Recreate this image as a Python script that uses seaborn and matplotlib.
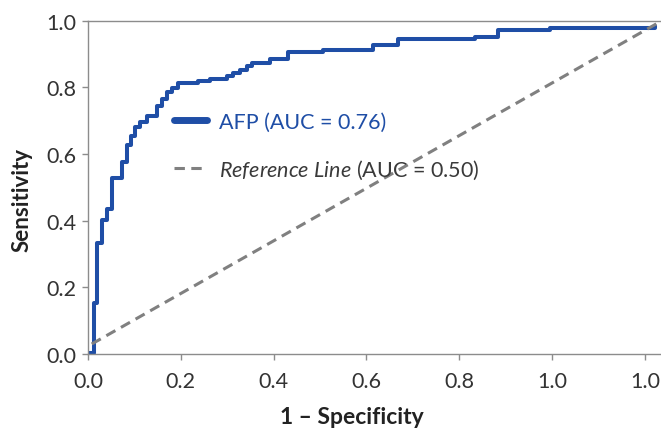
import matplotlib
matplotlib.use("Agg")
import matplotlib.pyplot as plt
import seaborn as sns
import pandas as pd

# ---- data ----
afp_fpr = [0.0, 0.012, 0.019, 0.030, 0.041, 0.052, 0.073, 0.084, 0.093, 0.101,
           0.112, 0.127, 0.149, 0.160, 0.170, 0.181, 0.194, 0.237, 0.263, 0.300,
           0.313, 0.328, 0.343, 0.353, 0.392, 0.431, 0.507, 0.614, 0.668, 0.834,
           0.884, 0.996, 1.222]
afp_tpr = [0.003, 0.153, 0.334, 0.403, 0.436, 0.529, 0.577, 0.626, 0.653, 0.680,
           0.695, 0.713, 0.743, 0.764, 0.785, 0.797, 0.812, 0.818, 0.824, 0.833,
           0.842, 0.851, 0.863, 0.872, 0.884, 0.905, 0.911, 0.926, 0.944, 0.950,
           0.971, 0.977, 0.983]
ref_x = [0.008, 1.225]
ref_y = [0.03, 0.99]

x_ticks = [0.0, 0.2, 0.4, 0.6, 0.8, 1.0, 1.2]
x_tick_labels = ["0.0", "0.2", "0.4", "0.6", "0.8", "1.0", "1.0"]
y_ticks = [0.0, 0.2, 0.4, 0.6, 0.8, 1.0]
y_tick_labels = ["0.0", "0.2", "0.4", "0.6", "0.8", "1.0"]

label_afp = "AFP (AUC = 0.76)"
label_ref = r"$\mathit{Reference\ Line}$ (AUC = 0.50)"

BLUE = "#1f4ea6"
GRAY = "#808080"
TEXT = "#333333"

sns.set_style("ticks")
plt.rcParams["font.family"] = ["Lato", "DejaVu Sans"]
plt.rcParams["mathtext.fontset"] = "custom"
plt.rcParams["mathtext.it"] = "Lato:italic"
plt.rcParams["mathtext.rm"] = "Lato"

fig = plt.figure(figsize=(6.61, 4.31), dpi=100)
ax = fig.add_axes([88 / 661, (431 - 355) / 431, (660 - 88) / 661, (355 - 21.5) / 431])

df_afp = pd.DataFrame({"fpr": afp_fpr, "tpr": afp_tpr})
df_ref = pd.DataFrame({"fpr": ref_x, "tpr": ref_y})

sns.lineplot(data=df_afp, x="fpr", y="tpr", ax=ax, color=BLUE, lw=2.9,
             drawstyle="steps-post", estimator=None, sort=False, label=label_afp)
sns.lineplot(data=df_ref, x="fpr", y="tpr", ax=ax, color=GRAY, lw=2.2,
             linestyle=(0, (3.4, 2.1)), estimator=None, sort=False, label=label_ref)

ax.set_xlim(0, (660 - 88) / 464)
ax.set_ylim(0, 1.0)
ax.set_xticks(x_ticks)
ax.set_xticklabels(x_tick_labels)
ax.set_yticks(y_ticks)
ax.set_yticklabels(y_tick_labels)

for s in ["left", "bottom", "top"]:
    ax.spines[s].set_color("#8c8c8c")
    ax.spines[s].set_linewidth(1.0)
ax.spines["right"].set_visible(False)
ax.tick_params(axis="both", colors="#8c8c8c", labelcolor=TEXT, labelsize=15.5,
               length=4.5, width=1.0)
ax.tick_params(axis="x", pad=8)
ax.tick_params(axis="y", pad=4)

ax.set_xlabel("1 \u2013 Specificity", fontsize=16.5, fontweight="bold", color="#222222")
ax.set_ylabel("Sensitivity", fontsize=16, fontweight="bold", color="#222222")
ax.xaxis.set_label_coords((352 - 88) / 572, -(407 - 355) / 333.5)
ax.yaxis.set_label_coords(-(88 - 33) / 572, (355 - 200) / 333.5)

leg = ax.legend(loc="upper left", bbox_to_anchor=((174 - 88) / 572, (355 - 113) / 333.5),
                frameon=False, fontsize=15.5, handlelength=1.55, handletextpad=0.55,
                labelspacing=1.2, borderpad=0, borderaxespad=0)
for t, c in zip(leg.get_texts(), [BLUE, "#3a3a3a"]):
    t.set_color(c)
leg.get_lines()[0].set_linewidth(5.0)

fig.savefig("out.png", dpi=100)
